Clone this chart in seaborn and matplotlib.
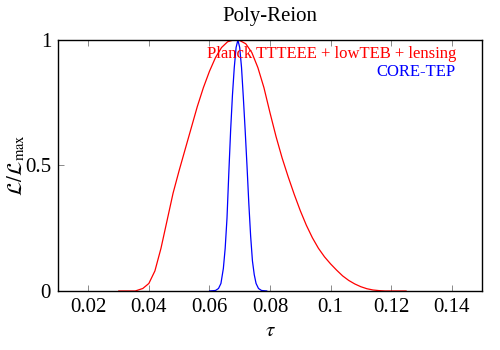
import pandas as pd
import seaborn as sns
import matplotlib
matplotlib.use("Agg")
import matplotlib.pyplot as plt

# values
tau_planck = [0.030, 0.0355, 0.038, 0.040, 0.042, 0.044, 0.046, 0.048, 0.050, 0.052,
              0.054, 0.056, 0.058, 0.060, 0.062, 0.064, 0.066, 0.068, 0.070, 0.072,
              0.074, 0.076, 0.078, 0.080, 0.082, 0.084, 0.086, 0.088, 0.090, 0.092,
              0.094, 0.096, 0.098, 0.100, 0.102, 0.104, 0.106, 0.108, 0.110, 0.112,
              0.114, 0.116, 0.118, 0.125]
like_planck = [0.0, 0.0, 0.01, 0.03, 0.08, 0.17, 0.28, 0.39, 0.48, 0.565,
               0.65, 0.735, 0.81, 0.875, 0.93, 0.97, 0.993, 1.0, 0.998, 0.985,
               0.95, 0.89, 0.81, 0.71, 0.615, 0.53, 0.455, 0.385, 0.32, 0.262,
               0.212, 0.17, 0.136, 0.108, 0.083, 0.06, 0.042, 0.028, 0.017, 0.009,
               0.004, 0.0015, 0.0, 0.0]

tau_core = [0.0600, 0.0620, 0.0630, 0.0638, 0.0646, 0.0652, 0.0658, 0.0664, 0.0670,
            0.0676, 0.0682, 0.0688, 0.0694, 0.0700, 0.0706, 0.0712, 0.0718, 0.0724,
            0.0730, 0.0736, 0.0742, 0.0748, 0.0754, 0.0762, 0.0772, 0.0790]
like_core = [0.0, 0.002, 0.01, 0.03, 0.09, 0.17, 0.29, 0.47, 0.64,
             0.78, 0.89, 0.97, 1.0, 0.97, 0.89, 0.77, 0.64, 0.50,
             0.35, 0.22, 0.12, 0.065, 0.03, 0.01, 0.002, 0.0]

x_ticks = [0.02, 0.04, 0.06, 0.08, 0.1, 0.12, 0.14]
x_tick_labels = ["0.02", "0.04", "0.06", "0.08", "0.1", "0.12", "0.14"]
y_ticks = [0, 0.5, 1]
y_tick_labels = ["0", "0.5", "1"]

sns.set_style("ticks")
plt.rcParams["font.family"] = ["Liberation Serif", "DejaVu Serif"]
plt.rcParams["mathtext.fontset"] = "stix"
plt.rcParams["text.color"] = "black"
plt.rcParams["axes.labelcolor"] = "black"

fig = plt.figure(figsize=(5, 3.5), dpi=100)
ax = fig.add_axes([0.116, 0.1686, 0.848, 0.7171])

sns.lineplot(x=tau_planck, y=like_planck, color="#ff0000", lw=0.9, ax=ax)
sns.lineplot(x=tau_core, y=like_core, color="#0000ff", lw=0.9, ax=ax)

ax.set_xlim(0.01, 0.15)
ax.set_ylim(0, 1)
ax.set_xticks(x_ticks)
ax.set_xticklabels(x_tick_labels)
ax.set_yticks(y_ticks)
ax.set_yticklabels(y_tick_labels)
ax.tick_params(direction="in", length=4, width=0.6, color="#777777",
               labelsize=15, top=True, right=False, pad=5, labelcolor="black")
for s in ax.spines.values():
    s.set_linewidth(1.0)
    s.set_color("black")

ax.set_xlabel(r"$\tau$", fontsize=15, labelpad=4)
ax.set_ylabel(r"$\mathcal{L}/\mathcal{L}_{\rm max}$", fontsize=15)
ax.yaxis.set_label_coords(-0.073, 0.5)
ax.set_title("Poly-Reion", fontsize=15, pad=14, color="black")

ax.text(0.1414, 0.975, "Planck TTTEEE + lowTEB + lensing", color="#ff0000",
        fontsize=12, ha="right", va="top")
ax.text(0.1414, 0.905, "CORE-TEP", color="#0000ff",
        fontsize=12, ha="right", va="top")

plt.savefig("out.png", dpi=100)
